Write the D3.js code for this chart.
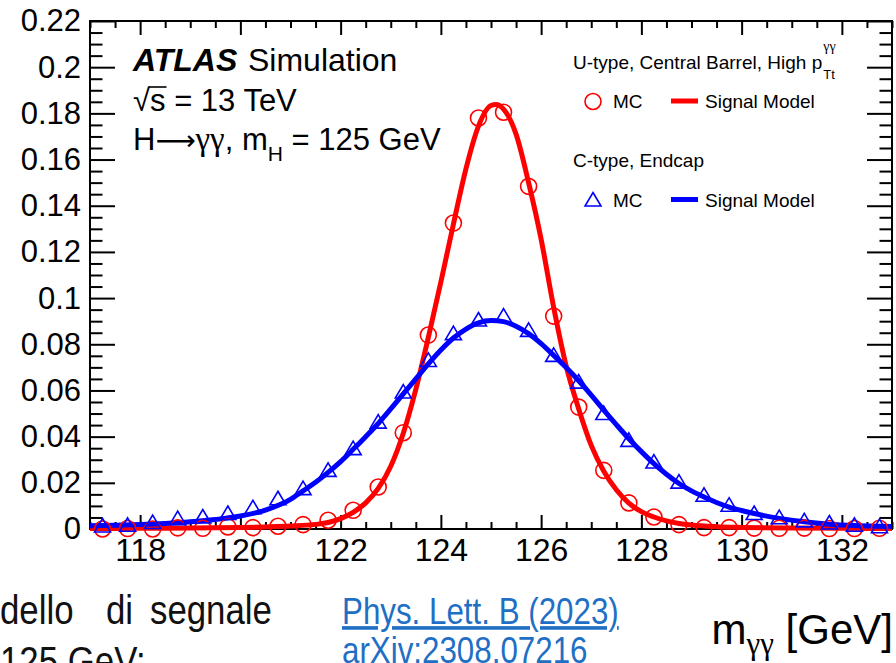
<!DOCTYPE html>
<html>
<head>
<meta charset="utf-8">
<script src="https://cdn.jsdelivr.net/npm/d3@7"></script>
<style>
  body { margin: 0; background: #fff; }
  svg { display: block; font-family: "Liberation Sans", Arial, Helvetica, sans-serif; }
  .greek { font-family: "Liberation Serif", "DejaVu Serif", serif; }
</style>
</head>
<body>
<svg id="chart" width="896" height="663"></svg>
<script>
// MC bin centres (0.5 GeV bins)
var binCentres = [117.25,117.75,118.25,118.75,119.25,119.75,120.25,120.75,121.25,121.75,
  122.25,122.75,123.25,123.75,124.25,124.75,125.25,125.75,126.25,126.75,
  127.25,127.75,128.25,128.75,129.25,129.75,130.25,130.75,131.25,131.75,132.25,132.75];

// U-type, Central Barrel, High pTt  (red circles)
var mcU = [0.0000,0.0002,0.0000,0.0005,0.0003,0.0009,0.0006,0.0012,0.0019,0.0038,
  0.0081,0.0182,0.0417,0.0840,0.1325,0.1780,0.1805,0.1484,0.0922,0.0528,
  0.0254,0.0113,0.0052,0.0019,0.0006,0.0006,0.0004,0.0003,0.0004,0.0002,0.0002,0.0003];

// C-type, Endcap (blue triangles)
var mcC = [0.0013,0.0016,0.0028,0.0045,0.0052,0.0067,0.0092,0.0131,0.0175,0.0254,
  0.0348,0.0463,0.0593,0.0730,0.0846,0.0905,0.0922,0.0860,0.0752,0.0636,
  0.0500,0.0384,0.0290,0.0203,0.0146,0.0103,0.0067,0.0049,0.0035,0.0026,0.0016,0.0010];

// signal model curves
var modelUx = [117,118,119,120,120.5,121,121.5,121.75,122,122.25,122.5,122.75,123,123.25,123.5,123.75,
  124,124.25,124.5,124.75,125,125.1,125.25,125.5,125.75,126,126.25,126.5,126.75,127,127.25,127.5,
  127.75,128,128.25,128.5,128.75,129,129.5,130,131,132,133];
var modelUy = [0.0002,0.0003,0.0004,0.0006,0.0009,0.0013,0.0020,0.0028,0.0045,0.0072,0.0113,0.0176,0.0272,0.0415,0.0605,0.0830,
  0.1070,0.1320,0.1560,0.1745,0.1834,0.1838,0.1818,0.1710,0.1500,0.1255,0.0960,0.0705,0.0520,0.0362,0.0250,0.0170,
  0.0112,0.0075,0.0052,0.0035,0.0024,0.0017,0.0010,0.0007,0.0004,0.0003,0.0002];

var modelCx = [117,117.5,118,118.5,119,119.5,120,120.5,121,121.25,121.5,121.75,122,122.25,122.5,122.75,
  123,123.25,123.5,123.75,124,124.25,124.5,124.75,125,125.25,125.5,125.75,126,126.25,126.5,126.75,
  127,127.25,127.5,127.75,128,128.25,128.5,128.75,129,129.25,129.5,129.75,130,130.25,130.75,131.25,
  131.75,132.25,132.75,133];
var modelCy = [0.0014,0.0016,0.0019,0.0024,0.0031,0.0041,0.0056,0.0082,0.0128,0.0165,0.0202,0.0245,0.0292,0.0345,0.0400,0.0457,
  0.0520,0.0585,0.0650,0.0715,0.0775,0.0827,0.0866,0.0893,0.0903,0.0898,0.0878,0.0846,0.0803,0.0752,0.0699,0.0642,
  0.0580,0.0515,0.0452,0.0391,0.0335,0.0283,0.0237,0.0197,0.0165,0.0139,0.0115,0.0095,0.0080,0.0067,0.0046,0.0031,
  0.0021,0.0015,0.0012,0.0011];

var xMajor = [118,120,122,124,126,128,130,132];
var xMajorLabels = ["118","120","122","124","126","128","130","132"];
var yMajor = [0,0.02,0.04,0.06,0.08,0.1,0.12,0.14,0.16,0.18,0.2,0.22];
var yMajorLabels = ["0","0.02","0.04","0.06","0.08","0.1","0.12","0.14","0.16","0.18","0.2","0.22"];

var svg = d3.select("#chart");
var padL = 90, padR = 892, padT = 21, padB = 529;

var x = d3.scaleLinear().domain([117, 133]).range([padL, padR]);
var y = d3.scaleLinear().domain([0, 0.22]).range([padB, padT]);

var xMinor = d3.range(117, 133.01, 0.5).filter(function(v){ return v % 2 !== 0; });
var yMinor = d3.range(0, 0.2201, 0.005).filter(function(v){ return Math.abs(v/0.02 - Math.round(v/0.02)) > 1e-6; });

function styleAxis(g){
  g.select(".domain").remove();
  g.selectAll(".tick line").attr("stroke", "#000").attr("stroke-width", 2);
}

// bottom axis
svg.append("g").attr("transform", "translate(0," + padB + ")")
  .call(d3.axisBottom(x).tickValues(xMajor).tickSize(-14).tickPadding(9)
    .tickFormat(function(d, i){ return xMajorLabels[i]; }))
  .call(styleAxis)
  .selectAll("text").attr("font-size", 32).attr("fill", "#000").attr("font-family", null);
svg.append("g").attr("transform", "translate(0," + padB + ")")
  .call(d3.axisBottom(x).tickValues(xMinor).tickSize(-7).tickFormat(""))
  .call(styleAxis);
// top axis
svg.append("g").attr("transform", "translate(0," + padT + ")")
  .call(d3.axisTop(x).tickValues(xMajor).tickSize(-14).tickFormat(""))
  .call(styleAxis);
svg.append("g").attr("transform", "translate(0," + padT + ")")
  .call(d3.axisTop(x).tickValues(xMinor).tickSize(-7).tickFormat(""))
  .call(styleAxis);
// left axis
svg.append("g").attr("transform", "translate(" + padL + ",0)")
  .call(d3.axisLeft(y).tickValues(yMajor).tickSize(-25).tickPadding(9)
    .tickFormat(function(d, i){ return yMajorLabels[i]; }))
  .call(styleAxis)
  .selectAll("text").attr("font-size", 31).attr("fill", "#000").attr("font-family", null);
svg.append("g").attr("transform", "translate(" + padL + ",0)")
  .call(d3.axisLeft(y).tickValues(yMinor).tickSize(-12.5).tickFormat(""))
  .call(styleAxis);
// right axis
svg.append("g").attr("transform", "translate(" + padR + ",0)")
  .call(d3.axisRight(y).tickValues(yMajor).tickSize(-25).tickFormat(""))
  .call(styleAxis);
svg.append("g").attr("transform", "translate(" + padR + ",0)")
  .call(d3.axisRight(y).tickValues(yMinor).tickSize(-12.5).tickFormat(""))
  .call(styleAxis);

// frame
svg.append("rect").attr("x", padL).attr("y", padT)
  .attr("width", padR - padL).attr("height", padB - padT)
  .attr("fill", "none").attr("stroke", "#000").attr("stroke-width", 2);

// model curves
var line = d3.line().curve(d3.curveMonotoneX)
  .x(function(d){ return x(d[0]); }).y(function(d){ return y(d[1]); });

svg.append("path").datum(d3.zip(modelUx, modelUy))
  .attr("d", line).attr("fill", "none").attr("stroke", "#ff0000").attr("stroke-width", 5);
svg.append("path").datum(d3.zip(modelCx, modelCy))
  .attr("d", line).attr("fill", "none").attr("stroke", "#0000ff").attr("stroke-width", 5);

// MC markers
var tri = "M0,-7.5L8,6L-8,6Z";
svg.append("g").selectAll("circle").data(d3.zip(binCentres, mcU)).join("circle")
  .attr("cx", function(d){ return x(d[0]); }).attr("cy", function(d){ return y(d[1]); })
  .attr("r", 8).attr("fill", "none").attr("stroke", "#ff0000").attr("stroke-width", 1.6);
svg.append("g").selectAll("path").data(d3.zip(binCentres, mcC)).join("path")
  .attr("transform", function(d){ return "translate(" + x(d[0]) + "," + y(d[1]) + ")"; })
  .attr("d", tri).attr("fill", "none").attr("stroke", "#0000ff").attr("stroke-width", 1.6);

// ATLAS label
var lab = svg.append("g").attr("font-size", 31).attr("fill", "#000");
lab.append("text").attr("x", 133).attr("y", 71).attr("font-weight", "bold").attr("font-style", "italic")
  .attr("font-size", 32).text("ATLAS");
lab.append("text").attr("x", 248).attr("y", 71).attr("font-size", 32).text("Simulation");
var rs = lab.append("text").attr("x", 133).attr("y", 111);
rs.append("tspan").text("\u221A");
rs.append("tspan").text("s = 13 TeV");
var sx0 = rs.node().getStartPositionOfChar(1).x, sx1 = rs.node().getEndPositionOfChar(1).x;
lab.append("line").attr("x1", sx0 - 1).attr("x2", sx1 + 1).attr("y1", 87).attr("y2", 87)
  .attr("stroke", "#000").attr("stroke-width", 1.6);
var hl = lab.append("text").attr("x", 133).attr("y", 150);
hl.append("tspan").text("H");
hl.append("tspan").attr("font-family", "DejaVu Sans").attr("font-size", 28).text("\u27F6");
hl.append("tspan").attr("class", "greek").attr("font-size", 33).text("\u03B3\u03B3");
hl.append("tspan").text(", m");
hl.append("tspan").attr("font-size", 21).attr("dy", 11).text("H");
hl.append("tspan").attr("dy", -11).text(" = 125 GeV");

// legend
var leg = svg.append("g").attr("font-size", 19).attr("fill", "#000");
var t1 = leg.append("text").attr("x", 573).attr("y", 69).text("U-type, Central Barrel, High p");
var w1 = t1.node().getComputedTextLength();
leg.append("text").attr("class", "greek").attr("x", 573 + w1 + 1).attr("y", 51).attr("font-size", 14).text("\u03B3\u03B3");
leg.append("text").attr("x", 573 + w1 + 1).attr("y", 79).attr("font-size", 13).text("Tt");
leg.append("circle").attr("cx", 593).attr("cy", 101.5).attr("r", 8)
  .attr("fill", "none").attr("stroke", "#ff0000").attr("stroke-width", 1.6);
leg.append("text").attr("x", 613).attr("y", 108).text("MC");
leg.append("line").attr("x1", 671).attr("x2", 698).attr("y1", 101).attr("y2", 101)
  .attr("stroke", "#ff0000").attr("stroke-width", 5);
leg.append("text").attr("x", 705).attr("y", 108).text("Signal Model");
leg.append("text").attr("x", 573).attr("y", 167).text("C-type, Endcap");
leg.append("path").attr("transform", "translate(593,200)").attr("d", tri)
  .attr("fill", "none").attr("stroke", "#0000ff").attr("stroke-width", 1.6);
leg.append("text").attr("x", 613).attr("y", 207).text("MC");
leg.append("line").attr("x1", 671).attr("x2", 698).attr("y1", 199.5).attr("y2", 199.5)
  .attr("stroke", "#0000ff").attr("stroke-width", 5);
leg.append("text").attr("x", 705).attr("y", 207).text("Signal Model");

// x axis title
var xt = svg.append("text").attr("x", 893).attr("y", 644).attr("text-anchor", "end")
  .attr("font-size", 42).attr("fill", "#000");
xt.append("tspan").text("m");
xt.append("tspan").attr("class", "greek").attr("font-size", 31).attr("dy", 10).text("\u03B3\u03B3");
xt.append("tspan").attr("dy", -10).text(" [GeV]");

// slide text below the plot
var slide = svg.append("g").attr("font-size", 40).attr("fill", "#111");
function word(g, str, px, py, sx){
  return g.append("text").attr("transform", "translate(" + px + "," + py + ") scale(" + sx + ",1)").text(str);
}
word(slide, "dello", 0, 624, 0.87);
word(slide, "di", 106, 624, 0.87);
word(slide, "segnale", 150, 624, 0.87);
word(slide, "125 GeV:", 0, 675, 0.87);
var link = svg.append("g").attr("font-size", 36).attr("fill", "#1f6fc5");
word(link, "Phys. Lett. B (2023)", 342, 624, 0.87).attr("text-decoration", "underline");
word(link, "arXiv:2308.07216", 342, 663, 0.87);
</script>
</body>
</html>
